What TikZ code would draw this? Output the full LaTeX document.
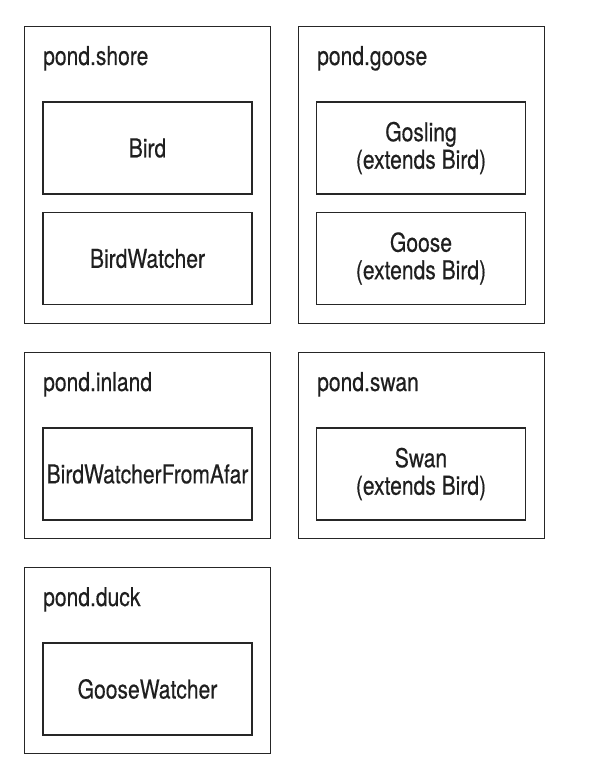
\documentclass[tikz,border=0pt]{standalone}
\usepackage{fontspec}
\setmainfont[FakeStretch=0.81,FakeBold=0.4]{TeX Gyre Heros}
\usetikzlibrary{positioning}

\begin{document}
\begin{tikzpicture}[x=1pt,y=-1pt,font=\fontsize{26}{27.5}\selectfont,text=black!88,
  package/.style={draw=black!85,line width=1.2pt,rectangle,inner sep=0pt,anchor=north west,minimum width=246pt},
  class/.style={draw=black!85,line width=1.2pt,rectangle,inner sep=0pt,minimum width=209pt,minimum height=92pt,align=center}]
\tikzstyle{pkg label} = [anchor=base west,inner sep=0pt]
\useasboundingbox (0,0) rectangle (589,784);

% Packages
\node[package,minimum height=297pt] (shore) at (24,26) {};
\node[package,minimum height=297pt] (goose) at (298,26) {};
\node[package,minimum height=186pt] (inland) at (24,352) {};
\node[package,minimum height=186pt] (swan) at (298,352) {};
\node[package,minimum height=186pt] (duck) at (24,567) {};

% Package names
\node[pkg label] (shorename) at ([shift={(19,39)}]shore.north west) {pond.shore};
\node[pkg label] (goosename) at ([shift={(19,39)}]goose.north west) {pond.goose};
\node[pkg label] (inlandname) at ([shift={(19,39)}]inland.north west) {pond.inland};
\node[pkg label] (swanname) at ([shift={(19,39)}]swan.north west) {pond.swan};
\node[pkg label] (duckname) at ([shift={(19,39)}]duck.north west) {pond.duck};

% Classes
\node[class] (bird) at (147.5,148) {Bird};
\node[class] (birdwatcher) at (147.5,258.5) {BirdWatcher};
\node[class] (gosling) at (421,148) {Gosling\\(extends Bird)};
\node[class] (goosecls) at (421,258.5) {Goose\\(extends Bird)};
\node[class] (afar) at (147.5,474) {BirdWatcherFromAfar};
\node[class] (swancls) at (421,474) {Swan\\(extends Bird)};
\node[class] (goosewatcher) at (147.5,689) {GooseWatcher};

\end{tikzpicture}
\end{document}
